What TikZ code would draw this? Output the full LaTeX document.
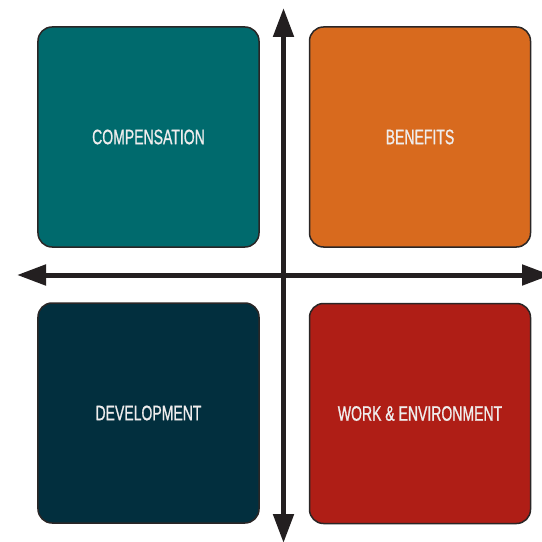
\documentclass[tikz,border=0pt]{standalone}
\usepackage{fontspec}
\setmainfont{Liberation Sans}[FakeStretch=0.67, FakeBold=0.9]
\usetikzlibrary{arrows.meta}
\definecolor{compfill}{HTML}{006A6D}
\definecolor{benefill}{HTML}{D86A1E}
\definecolor{devfill}{HTML}{022F3E}
\definecolor{workfill}{HTML}{AF1E16}
\definecolor{boxedge}{HTML}{2A2626}
\definecolor{labelcol}{HTML}{EFEDED}
\definecolor{axiscol}{HTML}{231F20}
\tikzset{
  quad/.style={draw=boxedge, line width=1.5bp, rounded corners=14bp,
    minimum width=221bp, minimum height=220bp, inner sep=0pt,
    text=labelcol, font=\fontsize{21}{21}\selectfont},
  axis/.style={draw=axiscol, line width=5bp,
    -{Triangle[length=29bp,width=20bp]}}
}
\begin{document}
\begin{tikzpicture}[x=1bp,y=-1bp]
  \useasboundingbox (0,0) rectangle (542,542);
  \clip (0,0) rectangle (542,542);
  % four quadrant boxes
  \node[quad, fill=compfill] (comp) at (148.5,137) {COMPENSATION};
  \node[quad, fill=benefill] (bene) at (420,137) {BENEFITS};
  \node[quad, fill=devfill]  (dev)  at (148.5,413) {DEVELOPMENT};
  \node[quad, fill=workfill] (work) at (420,413.5) {WORK \& ENVIRONMENT};
  % axis end points
  \coordinate (top)    at (283.5,8);
  \coordinate (bottom) at (283.5,543);
  \coordinate (left)   at (17,275);
  \coordinate (right)  at (551,275);
  \coordinate (origin) at (283.5,275);
  % double-headed axes
  \draw[axis] (origin) -- (top);
  \draw[axis] (origin) -- (bottom);
  \draw[axis] (origin) -- (left);
  \draw[axis] (origin) -- (right);
\end{tikzpicture}
\end{document}
